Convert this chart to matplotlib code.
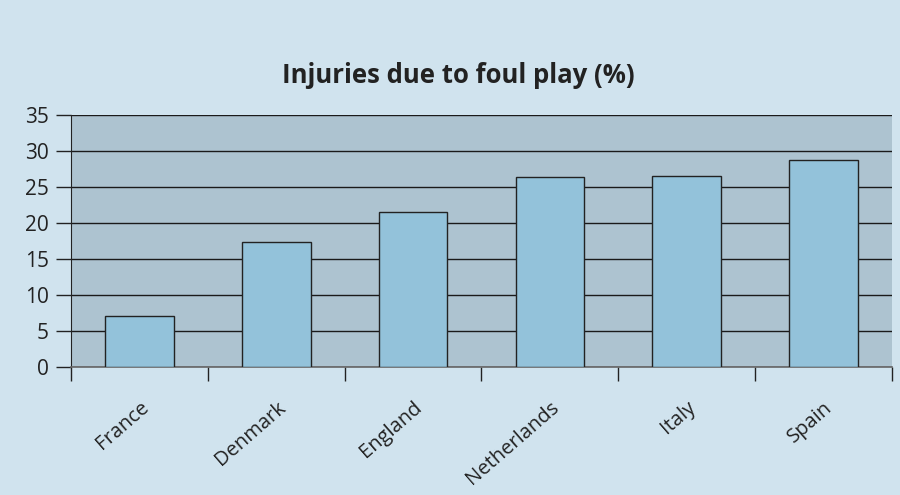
import matplotlib.pyplot as plt
import numpy as np

# Data
countries = ["France", "Denmark", "England", "Netherlands", "Italy", "Spain"]
values = [7.0, 17.3, 21.5, 26.4, 26.5, 28.7]
yticks = [0, 5, 10, 15, 20, 25, 30, 35]

OUTER_BG = "#d0e3ee"
PLOT_BG = "#adc3d0"
BAR_COLOR = "#93c2da"

plt.rcParams['font.family'] = ['Open Sans', 'DejaVu Sans']

fig = plt.figure(figsize=(9, 4.95), dpi=100, facecolor=OUTER_BG)
ax = fig.add_axes([0.079, 0.259, 0.912, 0.509])
ax.set_facecolor(PLOT_BG)

x = np.arange(len(countries))
ax.bar(x, values, width=0.5, color=BAR_COLOR, edgecolor="#222222",
       linewidth=1.0, zorder=3)

# Axis ranges
ax.set_xlim(-0.5, len(countries) - 0.5)
ax.set_ylim(0, 35)

# Horizontal gridlines
ax.set_yticks(yticks)
ax.yaxis.grid(True, color="#1a1a1a", linewidth=1.0, zorder=1)
ax.set_axisbelow(True)
ax.tick_params(axis='y', direction='out', length=11, width=1.0,
               color="#222222", labelsize=15, labelcolor="#222222", pad=5)

# x ticks: labels at centres, tick marks at category boundaries
ax.set_xticks(x)
ax.set_xticklabels(countries, rotation=41, ha='right',
                   rotation_mode='anchor', fontsize=14.5, color="#222222")
ax.tick_params(axis='x', which='major', length=0, pad=22)
ax.set_xticks(np.arange(-0.5, len(countries)), minor=True)
ax.tick_params(axis='x', which='minor', direction='out', length=10,
               width=1.0, color="#222222")

for side in ["top", "right"]:
    ax.spines[side].set_visible(False)
ax.spines["left"].set_color("#222222")
ax.spines["bottom"].set_color("#666666")
ax.spines["bottom"].set_linewidth(1.2)

fig.text(0.509, 0.848, "Injuries due to foul play (%)", ha='center',
         va='center', fontsize=18.5, fontweight='bold', color="#222222")

fig.savefig("out.png", dpi=100, facecolor=OUTER_BG)
